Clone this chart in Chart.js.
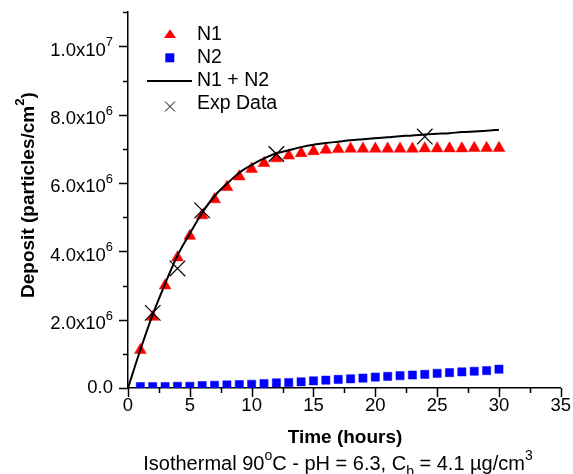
<!DOCTYPE html>
<html>
<head>
<meta charset="utf-8">
<script src="https://cdn.jsdelivr.net/npm/chart.js@4/dist/chart.umd.min.js"></script>
<style>
  html, body { margin: 0; padding: 0; background: #fff; }
</style>
</head>
<body>
<canvas id="grafico" width="573" height="474"></canvas>
<script>
// dados
const horas = [1, 2, 3, 4, 5, 6, 7, 8, 9, 10, 11, 12, 13, 14, 15, 16, 17, 18, 19, 20, 21, 22, 23, 24, 25, 26, 27, 28, 29, 30];
const n1 = [1.11e6, 2.08e6, 3.0e6, 3.82e6, 4.45e6, 5.05e6, 5.52e6, 5.88e6, 6.19e6, 6.41e6, 6.58e6, 6.72e6, 6.80e6, 6.87e6, 6.93e6,
  6.97e6, 6.99e6, 7.0e6, 7.0e6, 7.0e6, 7.0e6, 7.0e6, 7.0e6, 7.01e6, 7.01e6, 7.01e6, 7.01e6, 7.02e6, 7.02e6, 7.02e6];
const n2 = [0.04e6, 0.04e6, 0.04e6, 0.05e6, 0.05e6, 0.07e6, 0.08e6, 0.09e6, 0.10e6, 0.11e6, 0.13e6, 0.15e6, 0.16e6, 0.18e6, 0.21e6,
  0.23e6, 0.25e6, 0.27e6, 0.29e6, 0.32e6, 0.34e6, 0.36e6, 0.38e6, 0.40e6, 0.43e6, 0.45e6, 0.47e6, 0.49e6, 0.51e6, 0.55e6];
const curvaHoras = [0, 1, 2, 3, 4, 5, 6, 7, 8, 9, 10, 11, 12, 13, 14, 15, 16, 17, 18, 19, 20, 21, 22, 23, 24, 25, 26, 27, 28, 29, 30];
const curvaSoma = [0, 1.12e6, 2.15e6, 3.05e6, 3.88e6, 4.52e6, 5.13e6, 5.62e6, 5.98e6, 6.3e6, 6.53e6, 6.72e6, 6.87e6, 6.96e6, 7.05e6, 7.12e6,
  7.17e6, 7.21e6, 7.25e6, 7.28e6, 7.31e6, 7.34e6, 7.37e6, 7.39e6, 7.42e6, 7.44e6, 7.46e6, 7.49e6, 7.51e6, 7.53e6, 7.56e6];
const expHoras = [2, 4, 6, 12, 24];
const expDados = [2.2e6, 3.5e6, 5.2e6, 6.85e6, 7.36e6];

const xTicks = [0, 5, 10, 15, 20, 25, 30, 35];
const xTickLabels = ["0", "5", "10", "15", "20", "25", "30", "35"];
const yTicks = [0, 2e6, 4e6, 6e6, 8e6, 1e7];
const yTickLabels = ["0.0", "2.0x10^6", "4.0x10^6", "6.0x10^6", "8.0x10^6", "1.0x10^7"];

const FAM = '"Liberation Sans", Arial, sans-serif';
const pares = (xs, ys) => xs.map((x, i) => ({ x: x, y: ys[i] }));

// texto com sobrescrito/subscrito
function textoRico(ctx, partes, x, y, tam, peso, alinh) {
  let larg = 0;
  const med = partes.map((p) => {
    const s = p.pos ? tam * 0.7 : tam;
    ctx.font = peso + " " + s + "px " + FAM;
    const w = ctx.measureText(p.t).width;
    larg += w;
    return { p, s, w };
  });
  let cx = alinh === "center" ? x - larg / 2 : alinh === "right" ? x - larg : x;
  ctx.textAlign = "left";
  ctx.textBaseline = "alphabetic";
  med.forEach(({ p, s, w }) => {
    ctx.font = peso + " " + s + "px " + FAM;
    const dy = p.pos === "sup" ? -tam * 0.5 : p.pos === "sub" ? tam * 0.3 : 0;
    ctx.fillText(p.t, cx, y + dy);
    cx += w;
  });
}

function separa(rotulo) {
  const [base, exp] = rotulo.split("^");
  return exp ? [{ t: base }, { t: exp, pos: "sup" }] : [{ t: base }];
}

const eixosPlugin = {
  id: "eixos",
  afterDraw(chart) {
    const ctx = chart.ctx;
    const xs = chart.scales.x, ys = chart.scales.y;
    const area = chart.chartArea;
    ctx.save();
    ctx.strokeStyle = "#000";
    ctx.fillStyle = "#000";
    ctx.lineWidth = 1.5;

    // marcas do eixo y
    ys.ticks.forEach((t) => {
      const py = Math.round(ys.getPixelForValue(t.value)) + 0.5;
      const maior = yTicks.includes(t.value);
      ctx.beginPath();
      ctx.moveTo(area.left, py);
      ctx.lineTo(area.left - (maior ? 9 : 5), py);
      ctx.stroke();
    });
    yTicks.forEach((v, i) => {
      const py = ys.getPixelForValue(v);
      const partes = separa(yTickLabels[i]);
      textoRico(ctx, partes, 113, py + (partes.length > 1 ? 9.3 : 5.3), 18.5, "normal", "right");
    });

    // marcas do eixo x
    xs.ticks.forEach((t) => {
      const px = Math.round(xs.getPixelForValue(t.value)) + 0.5;
      const maior = xTicks.includes(t.value);
      ctx.beginPath();
      ctx.moveTo(px, area.bottom);
      ctx.lineTo(px, area.bottom + (maior ? 9 : 5));
      ctx.stroke();
    });
    xTicks.forEach((v, i) => {
      textoRico(ctx, [{ t: xTickLabels[i] }], xs.getPixelForValue(v), 410.5, 18.5, "normal", "center");
    });

    // titulos
    textoRico(ctx, [{ t: "Time (hours)" }], 345, 443, 19, "bold", "center");
    textoRico(ctx, [
      { t: "Isothermal 90" }, { t: "o", pos: "sup" }, { t: "C - pH = 6.3, C" }, { t: "b", pos: "sub" },
      { t: " = 4.1 \u00b5g/cm" }, { t: "3", pos: "sup" }
    ], 338, 469.5, 20, "normal", "center");
    ctx.save();
    ctx.translate(33.5, 195);
    ctx.rotate(-Math.PI / 2);
    textoRico(ctx, [{ t: "Deposit (particles/cm" }, { t: "2", pos: "sup" }, { t: ")" }], 0, 0, 19, "bold", "center");
    ctx.restore();

    // legenda
    const ds = chart.data.datasets;
    const bases = [40.3, 63.1, 85.9, 108.7];
    ctx.fillStyle = "#ff0000";
    ctx.beginPath();
    ctx.moveTo(170, 29.3); ctx.lineTo(164, 38); ctx.lineTo(176, 38); ctx.closePath();
    ctx.fill();
    ctx.fillStyle = "#0000ff";
    ctx.fillRect(165.3, 53.3, 9, 9);
    ctx.strokeStyle = "#000";
    ctx.lineWidth = 2;
    ctx.beginPath(); ctx.moveTo(147, 81); ctx.lineTo(192, 81); ctx.stroke();
    ctx.lineWidth = 1;
    ctx.beginPath();
    ctx.moveTo(165, 101.5); ctx.lineTo(175, 111.5);
    ctx.moveTo(175, 101.5); ctx.lineTo(165, 111.5);
    ctx.stroke();
    ctx.fillStyle = "#000";
    ds.forEach((d, i) => textoRico(ctx, [{ t: d.label }], 197, bases[i], 19.5, "normal", "left"));
    ctx.restore();
  }
};

new Chart(document.getElementById("grafico").getContext("2d"), {
  type: "scatter",
  data: {
    datasets: [
      {
        label: "N1",
        data: pares(horas, n1),
        pointStyle: "triangle",
        pointRadius: 6.8,
        borderWidth: 0.5,
        backgroundColor: "#ff0000",
        borderColor: "#ff0000",
        order: 3,
      },
      {
        label: "N2",
        data: pares(horas, n2),
        pointStyle: "rect",
        pointRadius: 5.8,
        borderWidth: 0.5,
        backgroundColor: "#0000ff",
        borderColor: "#0000ff",
        order: 2,
      },
      {
        label: "N1 + N2",
        data: pares(curvaHoras, curvaSoma),
        showLine: true,
        borderColor: "#000",
        borderWidth: 2,
        pointRadius: 0,
        cubicInterpolationMode: "monotone",
        order: 1,
      },
      {
        label: "Exp Data",
        data: pares(expHoras, expDados),
        pointStyle: "crossRot",
        pointRadius: 11,
        borderWidth: 1.2,
        borderColor: "#000",
        backgroundColor: "#000",
        order: 0,
      },
    ],
  },
  options: {
    responsive: false,
    animation: false,
    layout: { padding: { left: 0, top: 11, right: 11, bottom: 0 } },
    plugins: { legend: { display: false }, tooltip: { enabled: false } },
    scales: {
      x: {
        type: "linear",
        min: 0,
        max: 35,
        ticks: { display: false, stepSize: 2.5 },
        grid: { display: false },
        border: { display: true, color: "#000", width: 1.5 },
        afterFit: (s) => { s.height = 86; },
      },
      y: {
        min: 0,
        max: 1.1e7,
        ticks: { display: false, stepSize: 1e6 },
        grid: { display: false },
        border: { display: true, color: "#000", width: 1.5 },
        afterFit: (s) => { s.width = 128; },
      },
    },
  },
  plugins: [eixosPlugin],
});
</script>
</body>
</html>
